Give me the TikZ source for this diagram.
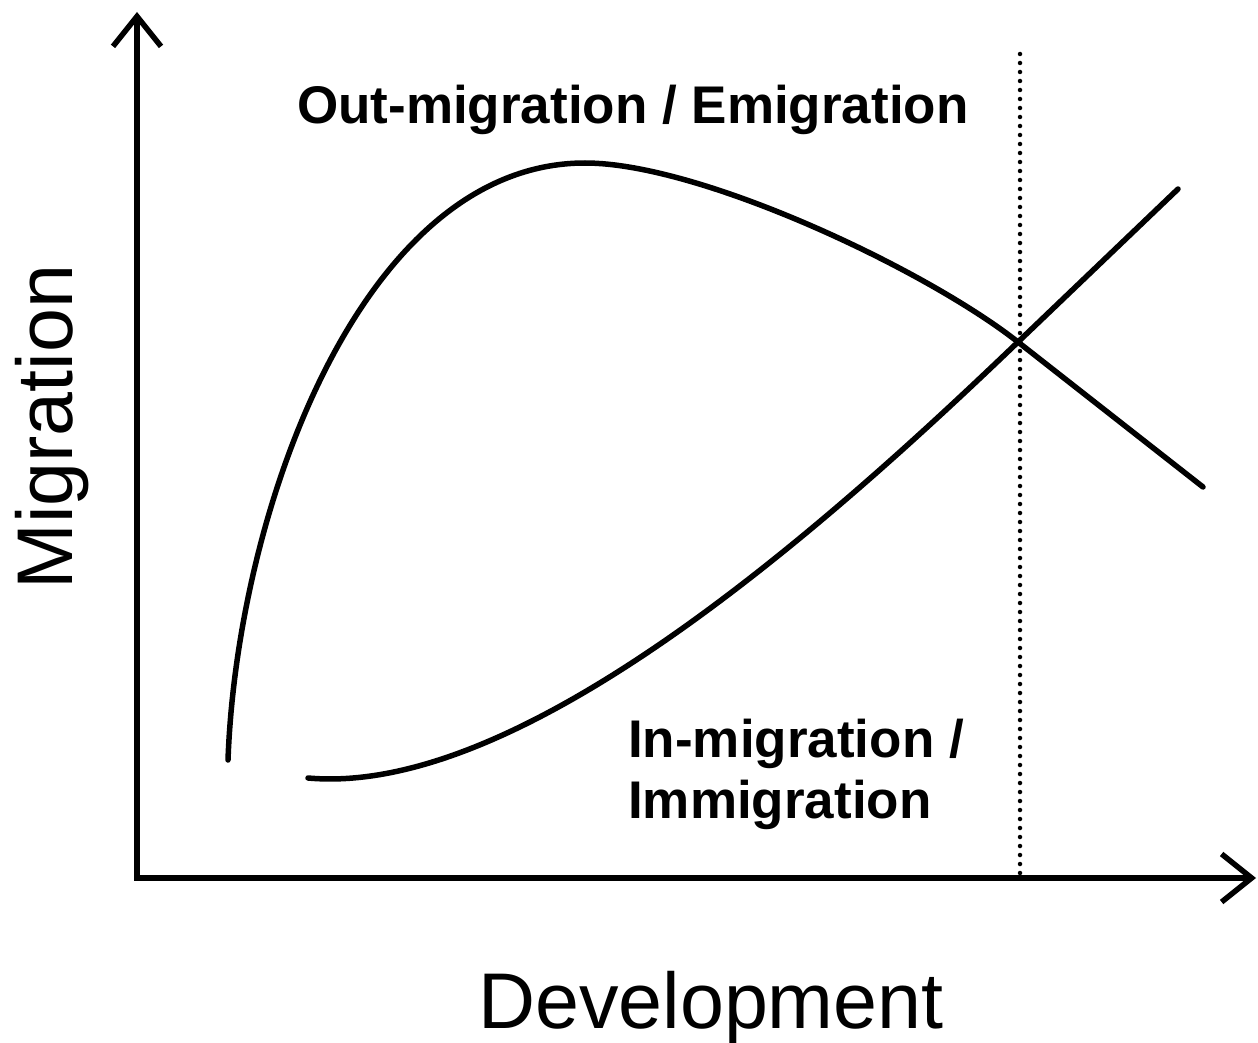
\documentclass[tikz,border=0pt]{standalone}
\usepackage{fontspec}
\setmainfont{Liberation Sans}
\usetikzlibrary{arrows.meta}
\begin{document}
\begin{tikzpicture}[x=1pt,y=-1pt,
  axis/.style={line width=5.5pt, line join=miter,
    {Straight Barb[length=30pt,width=48pt,line width=5.5pt]}-{Straight Barb[length=30pt,width=48pt,line width=5.5pt]}},
  curve/.style={line width=5.5pt, line cap=round, line join=round},
  guide/.style={line width=4.5pt, line cap=round, dash pattern=on 0pt off 9pt},
  lbl/.style={font=\bfseries\fontsize{53}{61}\selectfont, inner sep=0pt, anchor=base west},
  axlbl/.style={font=\fontsize{79}{90}\selectfont, inner sep=0pt, anchor=base west}]
\useasboundingbox (0,0) rectangle (1258,1043);
\fill[white] (0,0) rectangle (1258,1043);
% axes
\coordinate (ytop) at (137,12);
\coordinate (orig) at (137,878);
\coordinate (xend) at (1256,878);
\draw[axis] (ytop) -- (orig) -- (xend);
% dotted guide
\coordinate (gtop) at (1020,54);
\coordinate (gbot) at (1020,876);
\draw[guide] (gtop) -- (gbot);
% curve end points
\coordinate (os) at (228,760);
\coordinate (opk) at (585,163);
\coordinate (cross) at (1018,342);
\coordinate (oe) at (1203,487);
\coordinate (is) at (308,778);
\coordinate (ie) at (1178,189);
% out-migration curve
\draw[curve] (os) .. controls (237,510) and (362,163) .. (opk)
  .. controls (700,163) and (925,269) .. (cross) -- (oe);
% in-migration curve
\draw[curve] (is) .. controls (520,797) and (820,532) .. (cross) -- (ie);
% labels
\node[lbl] (out) at (297,124) {Out-migration / Emigration};
\node[lbl] (in1) at (628,757) {In-migration /};
\node[lbl] (in2) at (628,818) {Immigration};
\node[axlbl] (xl) at (478,1028) {Development};
\node[axlbl, rotate=90] (yl) at (72,590) {Migration};
\end{tikzpicture}
\end{document}
